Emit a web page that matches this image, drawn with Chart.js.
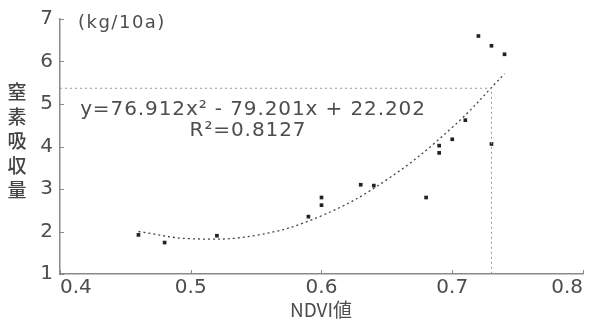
<!DOCTYPE html>
<html>
<head>
<meta charset="utf-8">
<script src="https://cdn.jsdelivr.net/npm/chart.js@4"></script>
<style>
html,body{margin:0;padding:0;background:#fff;}
canvas{display:block;}
</style>
</head>
<body>
<canvas id="c" width="595" height="324"></canvas>
<script>
// Observed data (NDVI value vs nitrogen uptake kg/10a)
const ndvi   = [0.46, 0.48, 0.52, 0.59, 0.60, 0.60, 0.63, 0.64, 0.68, 0.69, 0.69, 0.70, 0.71, 0.73, 0.72, 0.73, 0.74];
const uptake = [1.92, 1.74, 1.90, 2.35, 2.80, 2.62, 3.10, 3.08, 2.80, 4.02, 3.85, 4.17, 4.62, 4.06, 6.60, 6.37, 6.17];
// Trend curve
const trendX = [0.46, 0.50, 0.55, 0.60, 0.65, 0.70, 0.74];
const trendY = [2.00, 1.83, 1.91, 2.37, 3.22, 4.45, 5.71];
// Guide lines (dotted)
const guideX = [0.40, 0.73, 0.73];
const guideY = [5.37, 5.37, 1.00];
// Ticks
const xTicks = [0.4, 0.5, 0.6, 0.7, 0.8];
const yTicks = [1, 2, 3, 4, 5, 6, 7];
// Texts
const unitLabel = "(kg/10a)";
const yTitle = "窒素吸収量";
const xTitle = "NDVI値";
const eqText = "y=76.912x² - 79.201x + 22.202";
const r2Text = "R²=0.8127";

const textColor = "#4d4d4d";
const axisColor = "#8a8a8a";
const fontFam = "'DejaVu Sans', sans-serif";
const cjkFam = "'Noto Sans CJK JP', sans-serif";

const toXY = (xs, ys) => xs.map((x, i) => ({x: x, y: ys[i]}));

const overlay = {
  id: 'overlay',
  afterDraw(chart) {
    const ctx = chart.ctx;
    const xs = chart.scales.x, ys = chart.scales.y;
    const a = chart.chartArea;
    ctx.save();
    // inward ticks
    ctx.strokeStyle = axisColor;
    ctx.lineWidth = 1;
    xTicks.forEach(v => {
      const px = Math.round(xs.getPixelForValue(v)) + 0.5;
      ctx.beginPath(); ctx.moveTo(px, a.bottom); ctx.lineTo(px, a.bottom - 4); ctx.stroke();
    });
    yTicks.forEach(v => {
      const py = Math.round(ys.getPixelForValue(v)) + 0.5;
      ctx.beginPath(); ctx.moveTo(a.left, py); ctx.lineTo(a.left + 4, py); ctx.stroke();
    });
    ctx.fillStyle = textColor;
    // unit label
    ctx.letterSpacing = "1.5px";
    ctx.font = "18px " + fontFam;
    ctx.textAlign = "left"; ctx.textBaseline = "middle";
    ctx.fillText(unitLabel, a.left + 18, 23);
    // equation
    ctx.textAlign = "center";
    ctx.letterSpacing = "0.9px";
    ctx.font = "20px " + fontFam;
    ctx.fillText(eqText, 253, 110);
    ctx.fillText(r2Text, 248, 131);
    ctx.letterSpacing = "0px";
    // vertical Y title
    ctx.fillStyle = "#444";
    ctx.font = "500 19px " + cjkFam;
    const ys0 = 92, step = 24.5;
    [...yTitle].forEach((ch, i) => ctx.fillText(ch, 17, ys0 + i * step));
    // X title
    ctx.fillStyle = textColor;
    ctx.font = "19px " + cjkFam;
    ctx.fillText(xTitle, 321, 310);
    ctx.restore();
  }
};

new Chart(document.getElementById('c'), {
  type: 'scatter',
  data: {
    datasets: [
      {
        data: toXY(guideX, guideY),
        showLine: true,
        borderColor: '#999',
        borderWidth: 1,
        borderDash: [2, 3],
        pointRadius: 0,
        fill: false
      },
      {
        data: toXY(trendX, trendY),
        showLine: true,
        borderColor: '#444',
        borderWidth: 1.3,
        borderDash: [2, 3],
        tension: 0.4,
        pointRadius: 0,
        fill: false
      },
      {
        data: toXY(ndvi, uptake),
        pointStyle: 'rect',
        pointRadius: 2.6,
        backgroundColor: '#222',
        borderColor: '#222',
        borderWidth: 0
      }
    ]
  },
  options: {
    responsive: false,
    animation: false,
    devicePixelRatio: 1,
    layout: {padding: {left: 0, top: 18, right: 12, bottom: 0}},
    plugins: {legend: {display: false}, tooltip: {enabled: false}},
    scales: {
      x: {
        type: 'linear',
        min: 0.4, max: 0.8,
        afterBuildTicks(s) { s.ticks = xTicks.map(v => ({value: v})); },
        afterFit(s) { s.height = 50; },
        ticks: {
          align: 'inner',
          padding: 2,
          color: textColor,
          font: {family: fontFam, size: 20},
          callback: v => v.toFixed(1)
        },
        grid: {display: true, drawOnChartArea: false, drawTicks: false},
        border: {color: axisColor, width: 1.5}
      },
      y: {
        type: 'linear',
        min: 1, max: 7,
        afterBuildTicks(s) { s.ticks = yTicks.map(v => ({value: v})); },
        afterFit(s) { s.width = 60; },
        ticks: {
          padding: 7,
          color: textColor,
          font: {family: fontFam, size: 20},
          callback: v => String(v)
        },
        grid: {display: true, drawOnChartArea: false, drawTicks: false},
        border: {color: axisColor, width: 1.5}
      }
    }
  },
  plugins: [overlay]
});
</script>
</body>
</html>
